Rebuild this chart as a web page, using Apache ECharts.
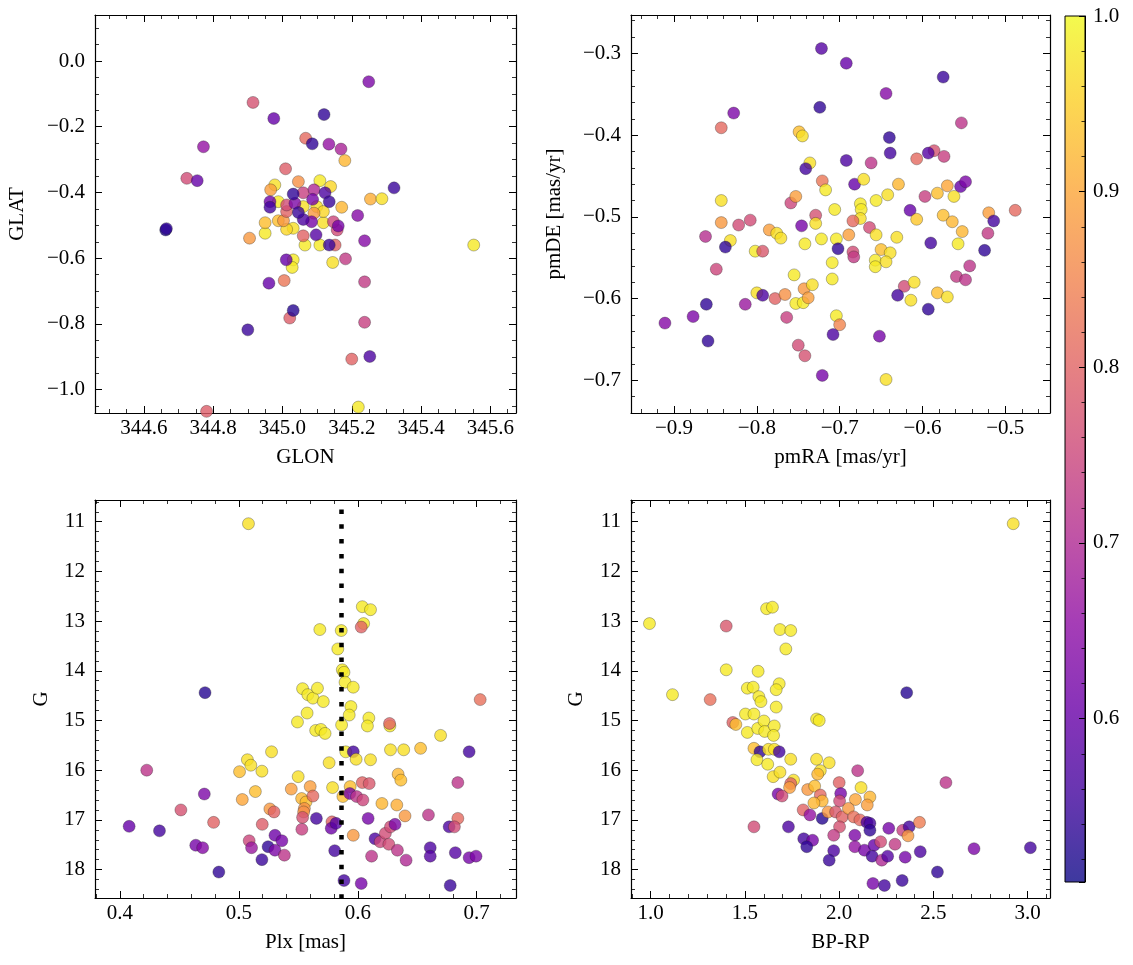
<!DOCTYPE html>
<html><head><meta charset="utf-8">
<script src="https://cdn.jsdelivr.net/npm/echarts@6/dist/echarts.min.js"></script>
<style>html,body{margin:0;padding:0;background:#fff}#c{width:1133px;height:965px}</style>
</head><body><div id="c"></div>
<script>
// ---------- DATA ----------
// Panel 1: GLON / GLAT
const glon = [345.249,344.915,344.975,345.120,344.772,345.067,345.086,345.134,345.169,345.180,344.724,344.754,345.009,345.322,345.254,345.287,344.663,344.665,345.552,344.905,345.217,345.237,345.182,345.145,345.031,345.028,345.011,344.961,345.005,345.237,345.021,345.031,344.900,345.237,345.200,345.252,344.781,345.219,
 345.108,344.988,344.950,345.065,345.108,344.978,345.060,345.099,345.031,345.118,345.139,345.118,345.012,344.988,344.950,345.171,344.966,345.091,345.003,345.046,345.012,345.060,345.152,345.012,345.158,345.147,345.060,345.091,345.036,345.087,345.084,345.161,344.964,345.097,345.123,345.060,344.964,345.135,345.046,345.135,345.031];
const glat = [-0.063,-0.126,-0.175,-0.163,-0.261,-0.235,-0.252,-0.253,-0.268,-0.303,-0.357,-0.364,-0.328,-0.386,-0.420,-0.419,-0.514,-0.510,-0.560,-0.539,-0.470,-0.547,-0.602,-0.613,-0.605,-0.628,-0.605,-0.676,-0.668,-0.672,-0.782,-0.759,-0.818,-0.795,-0.907,-0.899,-1.066,-1.053,
 -0.364,-0.428,-0.524,-0.560,-0.560,-0.377,-0.443,-0.443,-0.509,-0.492,-0.382,-0.458,-0.512,-0.486,-0.492,-0.445,-0.392,-0.463,-0.486,-0.367,-0.458,-0.532,-0.560,-0.438,-0.514,-0.489,-0.401,-0.392,-0.433,-0.421,-0.489,-0.502,-0.428,-0.529,-0.401,-0.482,-0.445,-0.428,-0.461,-0.560,-0.405];
const prob1 = [0.63,0.77,0.60,0.54,0.66,0.81,0.54,0.66,0.69,0.92,0.76,0.60,0.79,0.55,0.91,0.97,0.52,0.54,0.98,0.88,0.64,0.64,0.73,0.97,0.98,0.98,0.60,0.60,0.83,0.73,0.79,0.53,0.55,0.74,0.80,0.57,0.79,0.98,
 0.98,0.98,0.98,0.98,0.98,0.97,0.97,0.97,0.97,0.97,0.96,0.96,0.96,0.93,0.93,0.92,0.89,0.88,0.88,0.87,0.80,0.80,0.80,0.76,0.76,0.75,0.74,0.70,0.63,0.62,0.62,0.62,0.61,0.58,0.57,0.57,0.56,0.55,0.55,0.55,0.54];

// Panel 2: pmRA / pmDE
const pmra = [-0.722,-0.692,-0.575,-0.644,-0.828,-0.724,-0.553,-0.843,-0.749,-0.745,-0.640,-0.639,-0.692,-0.662,-0.607,-0.586,-0.593,-0.574,-0.736,-0.741,-0.721,-0.717,-0.682,-0.671,-0.629,-0.642,-0.656,-0.675,-0.674,-0.675,-0.582,-0.570,-0.554,-0.548,-0.562,-0.597,-0.615,-0.607,-0.575,-0.564,-0.552,-0.557,-0.590,-0.520,-0.514,-0.488,-0.521,-0.525,-0.543,-0.559,-0.548,-0.622,-0.610,-0.630,-0.614,-0.582,-0.570,-0.593,-0.843,-0.843,-0.862,-0.832,-0.838,-0.822,-0.808,-0.849,-0.802,-0.793,-0.785,-0.776,-0.771,-0.759,-0.753,-0.746,-0.729,-0.729,-0.742,-0.722,-0.706,-0.704,-0.702,-0.689,-0.684,-0.684,-0.683,-0.664,-0.656,-0.631,-0.650,-0.639,-0.657,-0.644,-0.657,-0.709,-0.709,-0.755,-0.800,-0.793,-0.778,-0.766,-0.753,-0.743,-0.744,-0.738,-0.733,-0.861,-0.814,-0.877,-0.911,-0.859,-0.764,-0.704,-0.700,-0.708,-0.750,-0.742,-0.721,-0.652,-0.644];
const pmde = [-0.294,-0.312,-0.329,-0.349,-0.373,-0.366,-0.385,-0.391,-0.396,-0.401,-0.403,-0.422,-0.431,-0.434,-0.429,-0.419,-0.422,-0.426,-0.434,-0.441,-0.456,-0.467,-0.460,-0.454,-0.460,-0.473,-0.480,-0.484,-0.491,-0.502,-0.471,-0.462,-0.463,-0.457,-0.475,-0.475,-0.492,-0.503,-0.498,-0.506,-0.518,-0.533,-0.532,-0.495,-0.505,-0.492,-0.520,-0.541,-0.560,-0.573,-0.577,-0.585,-0.580,-0.596,-0.602,-0.593,-0.598,-0.613,-0.480,-0.507,-0.524,-0.529,-0.537,-0.510,-0.504,-0.564,-0.542,-0.542,-0.516,-0.520,-0.526,-0.483,-0.475,-0.511,-0.498,-0.508,-0.533,-0.527,-0.491,-0.527,-0.539,-0.522,-0.505,-0.543,-0.549,-0.513,-0.522,-0.525,-0.540,-0.544,-0.553,-0.555,-0.561,-0.556,-0.576,-0.571,-0.593,-0.596,-0.600,-0.595,-0.606,-0.588,-0.605,-0.599,-0.583,-0.607,-0.607,-0.622,-0.630,-0.652,-0.623,-0.621,-0.632,-0.644,-0.657,-0.670,-0.694,-0.646,-0.699];
const prob2 = [0.58,0.60,0.55,0.64,0.63,0.54,0.72,0.81,0.93,0.97,0.54,0.56,0.57,0.72,0.81,0.77,0.58,0.74,0.97,0.56,0.83,0.98,0.60,0.97,0.92,0.97,0.98,0.98,0.98,0.97,0.93,0.90,0.60,0.63,0.97,0.74,0.60,0.94,0.93,0.92,0.92,0.98,0.56,0.89,0.56,0.81,0.73,0.54,0.72,0.73,0.72,0.76,0.97,0.56,0.97,0.93,0.97,0.54,0.97,0.88,0.71,0.97,0.54,0.76,0.76,0.75,0.98,0.78,0.89,0.97,0.97,0.75,0.89,0.62,0.77,0.97,0.98,0.98,0.98,0.98,0.54,0.89,0.81,0.76,0.73,0.76,0.97,0.97,0.93,0.97,0.98,0.97,0.98,0.98,0.98,0.98,0.97,0.57,0.80,0.87,0.98,0.88,0.98,0.89,0.97,0.54,0.67,0.63,0.64,0.54,0.74,0.98,0.85,0.57,0.76,0.77,0.62,0.62,0.97];

// Panel 3: Plx / G
const plx = [0.5081,0.6038,0.6107,0.6049,0.6029,0.5681,0.5861,0.5832,0.5870,0.5884,0.4716,0.5536,0.5580,0.5623,0.5661,0.5710,0.5893,0.5962,0.5942,0.5928,0.5864,0.5574,0.5493,0.5646,0.5690,0.5725,0.6093,0.6081,0.6270,0.6267,0.7029,0.6696,0.6528,0.6275,0.6386,0.5899,0.5962,0.5986,0.6107,0.6936,0.5275,0.5072,0.5101,0.5194,0.5006,0.5759,0.5499,0.5788,0.6339,0.6362,0.4226,0.4710,0.5139,0.5029,0.5441,0.5528,0.5565,0.5600,0.5623,0.5551,0.5545,0.5536,0.5530,0.5875,0.5936,0.5933,0.5990,0.6038,0.6096,0.6043,0.6203,0.6328,0.6397,0.6841,0.6841,0.6594,0.4513,0.4788,0.4078,0.4333,0.4638,0.4696,0.4832,0.5087,0.5107,0.5197,0.5194,0.5246,0.5261,0.5296,0.5304,0.5362,0.5304,0.5383,0.5652,0.5783,0.5777,0.5817,0.5806,0.5962,0.5884,0.6029,0.6087,0.6145,0.6116,0.6188,0.6232,0.6275,0.6313,0.6261,0.6333,0.6406,0.6609,0.6609,0.6768,0.6812,0.6820,0.6936,0.6994,0.6777];
const gmag3 = [11.04,12.71,12.77,13.05,13.12,13.17,13.19,13.56,13.98,14.03,14.44,14.36,14.48,14.55,14.35,14.62,14.23,14.33,14.72,14.89,15.09,14.85,15.03,15.20,15.18,15.26,14.95,15.11,15.11,15.06,14.58,15.30,15.56,15.59,15.59,15.63,15.63,15.78,15.79,15.63,15.63,15.79,15.90,16.02,16.03,15.85,16.13,16.35,16.08,16.20,16.00,16.48,16.43,16.59,16.38,16.57,16.64,16.33,16.52,16.77,16.84,16.95,17.19,16.53,16.33,16.47,16.53,16.25,16.27,16.60,16.67,16.70,16.92,16.25,16.97,16.90,16.80,17.05,17.13,17.22,17.51,17.56,18.05,17.42,17.56,17.09,17.80,17.54,16.78,16.84,17.31,17.42,17.61,17.71,16.97,17.04,17.17,17.07,17.62,17.31,18.22,18.28,16.97,17.38,17.73,17.44,17.27,17.14,17.09,17.49,17.61,17.81,17.56,17.73,17.14,17.14,17.66,17.76,17.73,18.32];
const prob3 = [0.97,0.98,0.98,0.98,0.80,0.98,0.98,0.98,0.98,0.98,0.53,0.98,0.98,0.98,0.98,0.98,0.98,0.98,0.98,0.98,0.98,0.98,0.98,0.98,0.98,0.98,0.98,0.98,0.98,0.80,0.82,0.97,0.93,0.97,0.97,0.98,0.56,0.97,0.97,0.56,0.97,0.97,0.97,0.97,0.93,0.97,0.97,0.97,0.92,0.93,0.72,0.63,0.93,0.90,0.89,0.92,0.93,0.89,0.81,0.87,0.87,0.77,0.74,0.93,0.93,0.62,0.72,0.80,0.78,0.75,0.92,0.91,0.88,0.72,0.81,0.72,0.77,0.80,0.60,0.56,0.62,0.64,0.54,0.75,0.67,0.79,0.55,0.54,0.88,0.80,0.61,0.62,0.63,0.72,0.56,0.80,0.61,0.58,0.56,0.88,0.56,0.62,0.62,0.57,0.72,0.75,0.76,0.76,0.63,0.76,0.72,0.70,0.57,0.58,0.57,0.76,0.58,0.62,0.63,0.55];
const plxLine = 0.586;

// Panel 4: BP-RP / G
const bprp = [2.923,0.994,1.116,1.316,1.401,1.401,1.615,1.646,1.686,1.743,1.717,1.570,1.513,1.544,1.574,1.585,1.682,1.666,1.666,1.503,1.548,1.880,1.894,1.436,1.452,1.513,1.568,1.601,1.605,1.656,1.652,1.548,1.580,1.625,1.656,1.682,1.564,1.621,1.650,1.686,1.743,1.880,1.947,1.900,1.886,2.098,1.758,1.743,1.737,1.833,1.870,1.676,1.697,1.900,1.910,1.866,2.000,2.008,2.002,2.116,2.163,2.149,2.086,1.809,1.845,1.910,1.941,1.981,2.016,2.049,2.077,2.110,2.147,2.163,2.163,2.002,1.971,2.083,2.083,1.731,1.548,1.812,1.859,1.828,1.971,1.947,2.134,2.185,2.175,2.220,2.226,2.263,2.257,2.296,2.337,2.350,2.371,2.365,2.426,2.430,2.358,2.566,2.715,3.014,2.521,2.334,2.179,2.240];
const gmag4 = [11.04,13.05,14.48,14.58,13.10,13.98,12.75,12.72,13.17,13.19,13.56,14.01,14.35,14.33,14.52,14.62,14.26,14.38,14.73,14.87,14.87,14.97,15.00,15.04,15.08,15.24,15.16,15.01,15.22,15.11,15.30,15.56,15.63,15.58,15.58,15.63,15.79,15.88,16.13,16.04,15.78,15.78,15.85,16.01,16.08,16.01,16.20,16.27,16.35,16.39,16.32,16.48,16.52,16.50,16.62,16.66,16.25,16.47,16.62,16.35,16.54,16.70,16.59,16.80,16.90,16.97,16.84,16.84,16.94,16.77,16.94,17.00,17.05,17.07,17.21,17.14,17.31,17.31,17.54,17.14,17.14,17.38,17.41,17.54,17.62,17.81,17.61,17.51,17.73,17.44,17.81,17.17,17.73,17.49,17.21,17.75,17.14,17.32,17.05,17.64,14.44,16.25,17.58,17.56,18.05,18.22,18.28,18.32];
const prob4 = [0.97,0.98,0.98,0.82,0.78,0.98,0.98,0.98,0.98,0.98,0.98,0.98,0.98,0.98,0.98,0.98,0.98,0.98,0.98,0.98,0.98,0.98,0.98,0.80,0.93,0.98,0.98,0.98,0.98,0.98,0.98,0.93,0.54,0.97,0.97,0.56,0.98,0.98,0.97,0.97,0.97,0.97,0.97,0.97,0.92,0.72,0.97,0.80,0.89,0.88,0.93,0.62,0.76,0.81,0.92,0.92,0.80,0.62,0.76,0.97,0.92,0.89,0.90,0.80,0.66,0.53,0.88,0.78,0.80,0.88,0.82,0.81,0.57,0.56,0.54,0.77,0.73,0.63,0.66,0.57,0.76,0.56,0.62,0.54,0.57,0.55,0.62,0.60,0.56,0.76,0.70,0.62,0.58,0.73,0.74,0.62,0.56,0.88,0.84,0.57,0.53,0.72,0.63,0.56,0.54,0.55,0.62,0.56];

// Colour scale
const CB_MIN = 0.507, CB_MAX = 1.0;
const PLASMA = ['#0d0887','#41049d','#6a00a8','#8f0da4','#b12a90','#cc4778','#e16462','#f2844b','#fca636','#fcce25','#f0f921'];

// ---------- CHART ----------
const FONT = 'Liberation Serif';
const FS = 21;
function zip(a,b,c){ return a.map((v,i)=>[v,b[i],c[i]]); }
function mkFmt(step, dec){
  return function(v){
    const r = v/step;
    if (Math.abs(r-Math.round(r)) > 1e-6) return '';
    if (Math.abs(v) < 1e-9) return (0).toFixed(dec);
    return (v<0?'\u2212':'') + Math.abs(v).toFixed(dec);
  };
}
function rgba(hex,a){ const n=parseInt(hex.slice(1),16); return 'rgba('+((n>>16)&255)+','+((n>>8)&255)+','+(n&255)+','+a+')'; }

const grids = [
  {left:95, top:15, width:421, height:398},
  {left:631, top:15, width:419, height:398},
  {left:95, top:500, width:421, height:398},
  {left:631, top:500, width:419, height:398},
  {left:1065, top:16, width:20, height:866}
];
const panels = [
  {x:{min:344.459,max:345.674,split:6,minor:4,fmt:mkFmt(0.2,1),name:'GLON'}, y:{min:-1.071,max:0.14,split:6,minor:4,fmt:mkFmt(0.2,1),name:'GLAT',gap:67}, data:zip(glon,glat,prob1)},
  {x:{min:-0.952,max:-0.446,split:5,minor:5,fmt:mkFmt(0.1,1),name:'pmRA [mas/yr]'}, y:{min:-0.740,max:-0.253,split:5,minor:5,fmt:mkFmt(0.1,1),name:'pmDE [mas/yr]',gap:66}, data:zip(pmra,pmde,prob2)},
  {x:{min:0.3791,max:0.733,split:4,minor:5,fmt:mkFmt(0.1,1),name:'Plx [mas]'}, y:{min:10.563,max:18.572,split:8,minor:5,fmt:mkFmt(1,0),name:'G',gap:43,inverse:true}, data:zip(plx,gmag3,prob3)},
  {x:{min:0.896,max:3.118,split:4,minor:5,fmt:mkFmt(0.5,1),name:'BP-RP'}, y:{min:10.563,max:18.572,split:8,minor:5,fmt:mkFmt(1,0),name:'G',gap:44,inverse:true}, data:zip(bprp,gmag4,prob4)}
];
const txt = {fontFamily:FONT, fontSize:FS, color:'#000'};
function common(s, gi){
  return {type:'value', gridIndex:gi, min:s.min, max:s.max, splitNumber:s.split, inverse:!!s.inverse,
    splitLine:{show:false},
    axisLine:{show:true, onZero:false, lineStyle:{color:'#000', width:1.2}},
    axisTick:{show:true, inside:true, length:7, lineStyle:{color:'#000', width:1}},
    minorTick:{show:true, splitNumber:s.minor, length:4, lineStyle:{color:'#000', width:0.8}}};
}
const xAxes=[], yAxes=[], series=[];
panels.forEach((p,i)=>{
  xAxes.push(Object.assign(common(p.x,i), {position:'bottom', axisLabel:Object.assign({formatter:p.x.fmt, margin:5}, txt),
     name:p.x.name, nameLocation:'middle', nameGap:34, nameTextStyle:txt}));
  xAxes.push(Object.assign(common(p.x,i), {position:'top', axisLabel:{show:false}}));
  yAxes.push(Object.assign(common(p.y,i), {position:'left', axisLabel:Object.assign({formatter:p.y.fmt, margin:10}, txt),
     name:p.y.name, nameLocation:'middle', nameGap:p.y.gap, nameTextStyle:txt}));
  yAxes.push(Object.assign(common(p.y,i), {position:'right', axisLabel:{show:false}}));
  const s = {type:'scatter', xAxisIndex:2*i, yAxisIndex:2*i, data:p.data, symbolSize:12, silent:true,
    itemStyle:{opacity:0.8, borderColor:'rgba(30,30,30,0.65)', borderWidth:0.6}};
  if (i===2){
    s.markLine = {silent:true, precision:4, symbol:['none','none'], label:{show:false}, animation:false,
      lineStyle:{color:'#000', width:4.5, type:[4.5,10.3], dashOffset:5.3, opacity:1},
      data:[{xAxis:plxLine}]};
  }
  series.push(s);
});
// colorbar axes
xAxes.push({type:'value', gridIndex:4, min:0, max:1, show:false});
yAxes.push({type:'value', gridIndex:4, position:'right', min:CB_MIN, max:CB_MAX, splitNumber:5, z:10,
  splitLine:{show:false},
  axisLine:{show:true, onZero:false, lineStyle:{color:'#000', width:1}},
  axisTick:{show:true, inside:true, length:6, lineStyle:{color:'#000', width:1}},
  minorTick:{show:true, splitNumber:5, length:3.5, lineStyle:{color:'#000', width:0.8}},
  axisLabel:Object.assign({formatter:mkFmt(0.1,1), margin:8}, txt)});
const stops = PLASMA.map((c,k)=>({offset:k/10, color:rgba(PLASMA[10-k],0.8)}));
series.push({type:'custom', xAxisIndex:8, yAxisIndex:8, silent:true, z:-1, data:[[0, CB_MIN, CB_MAX]],
  renderItem:function(params, api){
    const a = api.coord([0, CB_MAX]);
    const b = api.coord([1, CB_MIN]);
    return {type:'rect', shape:{x:a[0], y:a[1], width:b[0]-a[0], height:b[1]-a[1]},
      style:{fill:new echarts.graphic.LinearGradient(0,0,0,1,stops), stroke:'#000', lineWidth:1}};
  }});

const chart = echarts.init(document.getElementById('c'), null, {renderer:'canvas'});
chart.setOption({
  animation:false,
  backgroundColor:'#fff',
  grid:grids,
  xAxis:xAxes,
  yAxis:yAxes,
  visualMap:{type:'continuous', show:false, min:CB_MIN, max:CB_MAX, dimension:2, seriesIndex:[0,1,2,3], inRange:{color:PLASMA}},
  series:series
});
</script>
</body></html>
